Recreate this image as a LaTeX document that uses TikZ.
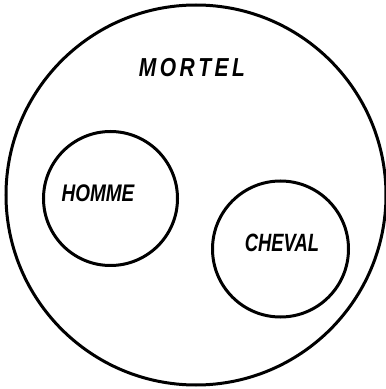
\documentclass[tikz,border=0pt]{standalone}
\usepackage{fontspec}
\setmainfont{Liberation Sans}
\usepackage{graphicx}
\begin{document}
\begin{tikzpicture}[x=1pt,y=1pt,
  ring/.style={circle, draw=black, line width=3pt, inner sep=0pt},
  lbl/.style={inner sep=0pt, font=\fontsize{20}{22}\selectfont\bfseries\itshape}]
\useasboundingbox (0,0) rectangle (386,389);
\node[ring, minimum size=380pt] (mortel) at (196,194) {};
\node[ring, minimum size=134pt] (homme) at (110.5,190.5) {};
\node[ring, minimum size=136pt] (cheval) at (280.5,140) {};
\node[lbl] (tmortel) at (192,321) {\scalebox{1.05}[1.3]{M\,O\,R\,T\,E\,L}};
\node[lbl] (thomme) at (98,196) {\scalebox{0.95}[1.2]{HOMME}};
\node[lbl] (tcheval) at (282,146) {\scalebox{0.92}[1.25]{CHEVAL}};
\end{tikzpicture}
\end{document}
